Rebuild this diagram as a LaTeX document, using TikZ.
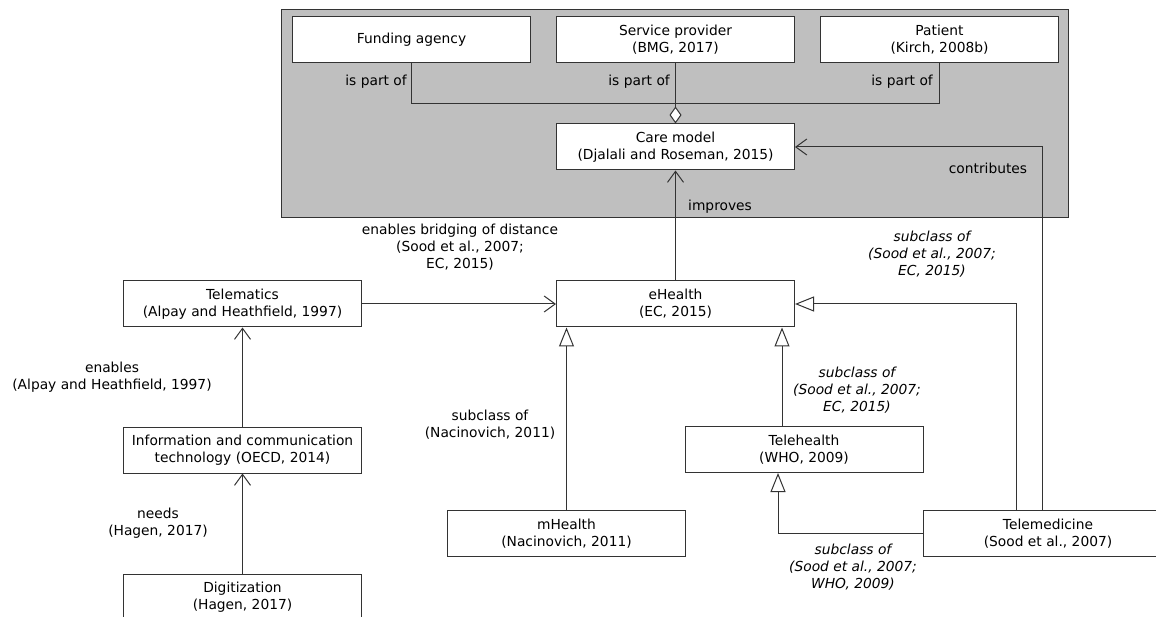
\documentclass[tikz,border=0pt]{standalone}
\usepackage{fontspec}
\setmainfont{DejaVu Sans}[ItalicFont={DejaVu Sans Oblique}, BoldFont={DejaVu Sans Bold}]
\usetikzlibrary{positioning,arrows.meta}

\begin{document}
\begin{tikzpicture}[x=1pt, y=-1pt, font=\fontsize{13.8}{17}\selectfont]
    \tikzset{
        umlbox/.style = {rectangle, draw=black!80, line width=1pt, fill=white, minimum width=238pt, minimum height=46pt, align=center, inner sep=2pt},
        lbl/.style = {align=center, inner sep=1pt},
        ilbl/.style = {lbl, font=\fontsize{13.8}{17}\selectfont\itshape},
        conn/.style = {draw=black!80, line width=1pt},
        assoc/.style = {conn, -{Straight Barb[length=11pt, width=16pt]}},
        gen/.style = {conn, -{Triangle[fill=white, length=19pt, width=15pt]}},
        aggr/.style = {conn, -{Diamond[fill=white, length=17pt, width=12pt]}},
        container/.style = {draw=black!80, line width=1pt, fill=black!25}
    }
    \useasboundingbox (0,0) rectangle (1156,617);
    \draw[container] (281,10) rectangle (1068,218);

    % care model group
    \node (fund) [umlbox] at (411.5,40) {Funding agency};
    \node (serv) [umlbox, right=25pt of fund] {Service provider\\(BMG, 2017)};
    \node (pat) [umlbox, right=25pt of serv] {Patient\\(Kirch, 2008b)};
    \node (care) [umlbox, below=60pt of serv] {Care model\\(Djalali and Roseman, 2015)};
    \coordinate (join) at (674.5,104);

    % health classes
    \node (eh) [umlbox, below=110pt of care] {eHealth\\(EC, 2015)};
    \node (tmat) [umlbox, left=194pt of eh] {Telematics\\(Alpay and Heathfield, 1997)};
    \node (ict) [umlbox, below=99pt of tmat] {Information and communication\\technology (OECD, 2014)};
    \node (dig) [umlbox, below=100pt of ict] {Digitization\\(Hagen, 2017)};
    \node (mh) [umlbox] at (566.5,533.5) {mHealth\\(Nacinovich, 2011)};
    \node (th) [umlbox] at (804,449.5) {Telehealth\\(WHO, 2009)};
    \node (tmed) [umlbox, minimum width=250pt] at (1048,533.5) {Telemedicine\\(Sood et al., 2007)};

    \draw [conn] (fund.south) |- (join);
    \draw [conn] (pat.south) |- (join);
    \draw [aggr] (serv.south) -- (care.north);
    \node (fundLabel) [lbl, anchor=east] at (408,82) {is part of};
    \node (servLabel) [lbl, anchor=east] at (671,82) {is part of};
    \node (patLabel) [lbl, anchor=east] at (934,82) {is part of};

    \draw [assoc] (eh.north) -- (care.south);
    \node (improvesLabel) [lbl, anchor=west] at (687,207) {improves};
    \draw [assoc] ([xshift=-6pt]tmed.north) |- (care.east);
    \node (contribLabel) [lbl] at (988,168) {contributes};
    \draw [gen] ([xshift=-32pt]tmed.north) |- (eh.east);
    \node (tmedEhLabel) [ilbl] at (932,254) {subclass of\\(Sood et al., 2007;\\EC, 2015)};

    \draw [assoc] (tmat.east) -- (eh.west);
    \node (bridgeLabel) [lbl] at (460,247) {enables bridging of distance\\(Sood et al., 2007;\\EC, 2015)};
    \draw [assoc] (ict.north) -- (tmat.south);
    \node (enablesLabel) [lbl] at (112,377) {enables\\(Alpay and Heathfield, 1997)};
    \draw [assoc] (dig.north) -- (ict.south);
    \node (needsLabel) [lbl] at (158,523) {needs\\(Hagen, 2017)};

    \draw [gen] (mh.north) -- (mh.north |- eh.south);
    \node (mhLabel) [lbl] at (490,425) {subclass of\\(Nacinovich, 2011)};
    \draw [gen] ([xshift=-22pt]th.north) -- ([xshift=-22pt]th.north |- eh.south);
    \node (thLabel) [ilbl] at (857,390) {subclass of\\(Sood et al., 2007;\\EC, 2015)};
    \draw [gen] (tmed.west) -| ([xshift=-26pt]th.south);
    \node (tmedThLabel) [ilbl] at (853,567) {subclass of\\(Sood et al., 2007;\\WHO, 2009)};
\end{tikzpicture}
\end{document}
